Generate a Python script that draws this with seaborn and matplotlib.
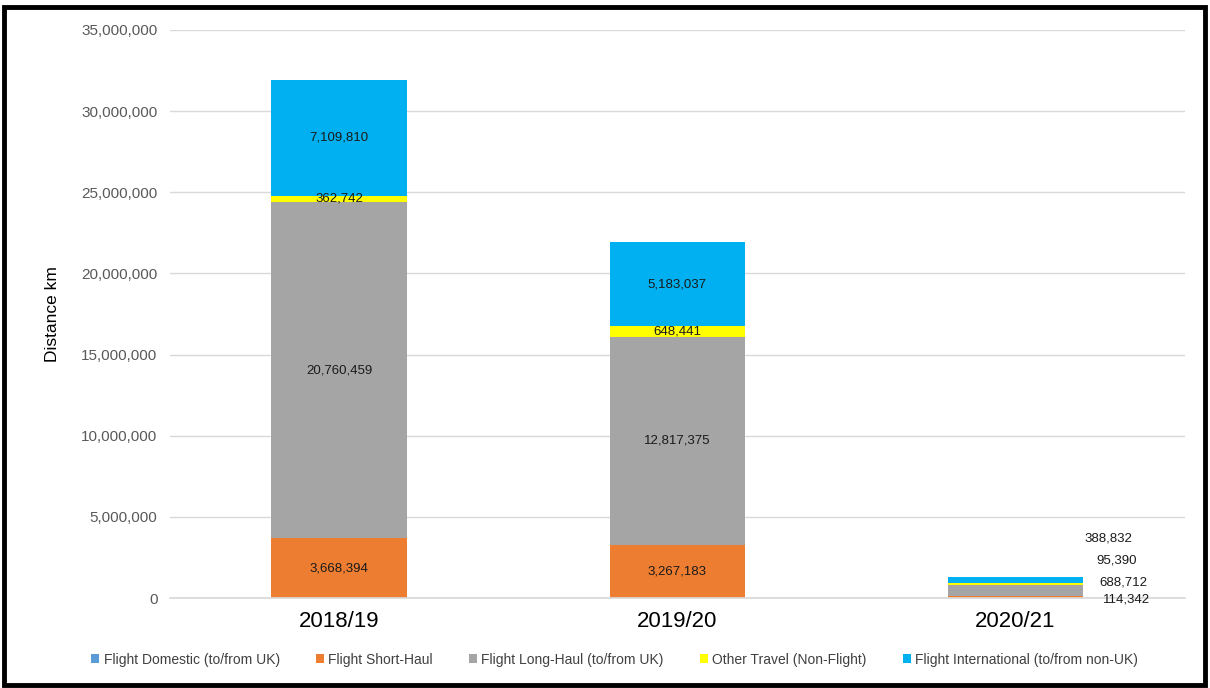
import numpy as np
import pandas as pd
import matplotlib.pyplot as plt
import seaborn as sns
from matplotlib.patches import Patch, Rectangle
from matplotlib.ticker import FuncFormatter

# Data
years = ['2018/19', '2019/20', '2020/21']
categories = ['Flight Domestic (to/from UK)', 'Flight Short-Haul', 'Flight Long-Haul (to/from UK)',
              'Other Travel (Non-Flight)', 'Flight International (to/from non-UK)']
domestic = [0, 0, 0]
short_haul = [3668394, 3267183, 114342]
long_haul = [20760459, 12817375, 688712]
other_travel = [362742, 648441, 95390]
international = [7109810, 5183037, 388832]
colors = ['#5B9BD5', '#ED7D31', '#A5A5A5', '#FFFF00', '#00B0F0']

series = [domestic, short_haul, long_haul, other_travel, international]
df = pd.DataFrame(dict(zip(categories, series)), index=years)
cum = df.cumsum(axis=1)

sns.set_theme(style='white')
plt.rcParams['font.family'] = ['Liberation Sans', 'DejaVu Sans']

fig = plt.figure(figsize=(12.1, 6.88), dpi=100)
ax = fig.add_axes([0.1405, 0.1308, 0.8385, 0.8256])

# stacked bars: draw cumulative totals from top layer down
for cat, col in reversed(list(zip(categories, colors))):
    sns.barplot(x=years, y=cum[cat].values, color=col, saturation=1, width=0.4,
                ax=ax, linewidth=0, zorder=2)

# labels inside segments (first two years)
for i, yr in enumerate(years[:2]):
    for cat in categories:
        v = df.loc[yr, cat]
        if v == 0:
            continue
        mid = cum.loc[yr, cat] - v / 2
        ax.text(i, mid, f'{v:,}', ha='center', va='center', fontsize=9.5, color='#1a1a1a', zorder=3)

# labels for the small last bar, pushed to the right
offsets = {'Flight Short-Haul': (80, -1.5), 'Flight Long-Haul (to/from UK)': (78, 6),
           'Other Travel (Non-Flight)': (73, 17), 'Flight International (to/from non-UK)': (67, 30)}
for cat, off in offsets.items():
    v = df.loc[years[2], cat]
    mid = cum.loc[years[2], cat] - v / 2
    ax.annotate(f'{v:,}', xy=(2, mid), xytext=off, textcoords='offset points',
                ha='center', va='center', fontsize=9.5, color='#1a1a1a', zorder=3)

ax.set_ylim(0, 35000000)
ax.set_xlim(-0.5, 2.5)
ax.set_yticks(np.arange(0, 35000001, 5000000))
ax.yaxis.set_major_formatter(FuncFormatter(lambda v, p: f'{int(v):,}'))
ax.grid(axis='y', color='#D9D9D9', linewidth=1)
ax.grid(axis='x', visible=False)
ax.set_axisbelow(True)
for s in ['top', 'right', 'left']:
    ax.spines[s].set_visible(False)
ax.spines['bottom'].set_color('#D9D9D9')
ax.tick_params(axis='y', length=0, pad=9, labelsize=11, labelcolor='#595959')
ax.tick_params(axis='x', length=0, pad=9, labelsize=16, labelcolor='#000000')
ax.set_ylabel('Distance km', fontsize=12.5, color='#000000', labelpad=15)
ax.set_xlabel('')

handles = [Patch(facecolor=c, edgecolor='none') for c in colors]
fig.legend(handles, categories, loc='center', bbox_to_anchor=(0.508, 0.041), ncol=5,
           frameon=False, fontsize=10, handlelength=0.6, handleheight=0.6,
           handletextpad=0.3, columnspacing=2.6, labelcolor='#404040')

fig.patches.append(Rectangle((0.003, 0.005), 0.993, 0.985, transform=fig.transFigure,
                             fill=False, edgecolor='black', linewidth=3.5))

fig.savefig('out.png', dpi=100)
